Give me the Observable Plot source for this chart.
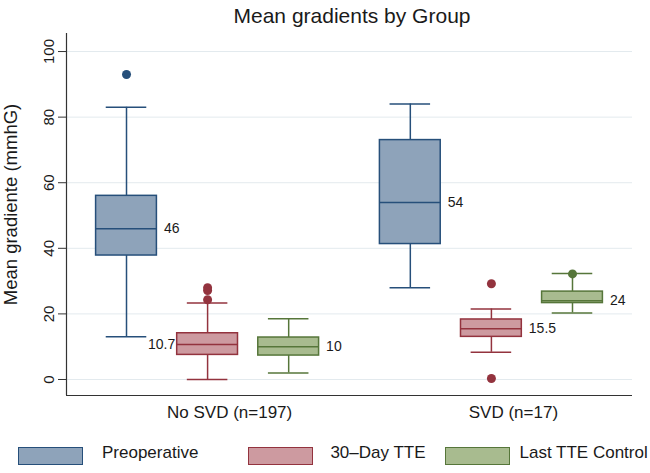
<!DOCTYPE html>
<html>
<head>
<meta charset="utf-8">
<script src="https://cdn.jsdelivr.net/npm/d3@7"></script>
<script src="https://cdn.jsdelivr.net/npm/@observablehq/plot@0.6"></script>
<style>
  body { margin: 0; background: #fff; font-family: "Liberation Sans", Arial, Helvetica, sans-serif; color: #1a1a1a; }
  #wrap { width: 650px; height: 473px; position: relative; overflow: hidden; }
  #title { height: 31px; line-height: 31px; font-size: 21px; text-align: center; padding-left: 70px; padding-right: 16px; }
  #legend { height: 35px; padding-top: 6px; display: flex; align-items: center; font-size: 17px; white-space: nowrap; }
  .sw { width: 63px; height: 16px; border-width: 1.5px; border-style: solid; flex: none; }
</style>
</head>
<body>
<div id="wrap">
  <div id="title"></div>
  <div id="chart"></div>
  <div id="legend"></div>
</div>
<script>
// ---- data ----
const chartTitle = "Mean gradients by Group";
const yTitle = "Mean gradiente (mmhG)";
const groups = ["No SVD (n=197)", "SVD (n=17)"];
const series = ["Preoperative", "30\u2013Day TTE", "Last TTE Control"];
const yTicks = [0, 20, 40, 60, 80, 100];
// box statistics, ordered group-major: [NoSVD-Pre, NoSVD-30d, NoSVD-Last, SVD-Pre, SVD-30d, SVD-Last]
const lowerWhisker = [13, 0, 2, 28, 8.3, 20.3];
const q1 = [37.8, 7.5, 7.3, 41.3, 13, 23.3];
const median = [46, 10.7, 10, 54, 15.5, 24];
const q3 = [56, 14.1, 12.8, 73, 18.3, 26.8];
const upperWhisker = [83, 23.3, 18.5, 84, 21.5, 32.3];
const medianLabelSide = ["right", "left", "right", "right", "right", "right"];
// outliers: [group index, series index, value]
const outliers = [
  [0, 0, 93],
  [0, 1, 24.3], [0, 1, 27.1], [0, 1, 28],
  [1, 1, 29.2], [1, 1, 0.3],
  [1, 2, 32.2]
];

// ---- styles ----
const fills = ["#8ea3ba", "#cd9aa0", "#a8bb8f"];
const strokes = ["#264f7a", "#93333e", "#56763a"];
const font = '"Liberation Sans", Arial, Helvetica, sans-serif';

// ---- layout helpers (slot positions on a linear x scale) ----
const slot = (g, s) => 1 + g * 3.5 + s;
const half = 0.375, capHalf = 0.25;
const xDomain = [1 - 0.74, 6.5 + 0.74];
const yDomain = [-4.88, 105.5];

const boxes = [];
groups.forEach((g, gi) => series.forEach((s, si) => {
  const i = gi * series.length + si;
  boxes.push({
    pos: slot(gi, si), si,
    lo: lowerWhisker[i], q1: q1[i], med: median[i], q3: q3[i], hi: upperWhisker[i],
    side: medianLabelSide[i]
  });
}));
const outs = outliers.map(([g, s, v]) => ({pos: slot(g, s), si: s, v}));
const groupLabels = groups.map((name, gi) => ({name, pos: slot(gi, 1)}));

document.getElementById("title").textContent = chartTitle;

const chart = Plot.plot({
  width: 650,
  height: 401,
  marginTop: 2,
  marginBottom: 37,
  marginLeft: 66,
  marginRight: 18,
  style: {fontFamily: font, fontSize: "15px", color: "#1a1a1a", background: "#fff"},
  x: {domain: xDomain, axis: null},
  y: {domain: yDomain, axis: null},
  color: {type: "identity"},
  marks: [
    Plot.ruleY(yTicks, {stroke: "#e3eaee", strokeWidth: 1}),
    // whiskers
    Plot.ruleX(boxes, {x: "pos", y1: "q3", y2: "hi", stroke: d => strokes[d.si], strokeWidth: 1.5}),
    Plot.ruleX(boxes, {x: "pos", y1: "lo", y2: "q1", stroke: d => strokes[d.si], strokeWidth: 1.5}),
    Plot.ruleY(boxes, {y: "hi", x1: d => d.pos - capHalf, x2: d => d.pos + capHalf, stroke: d => strokes[d.si], strokeWidth: 1.5}),
    Plot.ruleY(boxes, {y: "lo", x1: d => d.pos - capHalf, x2: d => d.pos + capHalf, stroke: d => strokes[d.si], strokeWidth: 1.5}),
    // boxes
    Plot.rect(boxes, {x1: d => d.pos - half, x2: d => d.pos + half, y1: "q1", y2: "q3",
      fill: d => fills[d.si], stroke: d => strokes[d.si], strokeWidth: 1.5}),
    Plot.ruleY(boxes, {y: "med", x1: d => d.pos - half, x2: d => d.pos + half, stroke: d => strokes[d.si], strokeWidth: 1.5}),
    // outliers
    Plot.dot(outs, {x: "pos", y: "v", r: 4.5, fill: d => strokes[d.si], stroke: "none"}),
    // median labels
    Plot.text(boxes.filter(d => d.side === "right"), {x: d => d.pos + half, y: "med", text: d => String(d.med),
      textAnchor: "start", dx: 7, fontSize: 14, fill: "#1a1a1a"}),
    Plot.text(boxes.filter(d => d.side === "left"), {x: d => d.pos - half, y: "med", text: d => String(d.med),
      textAnchor: "end", dx: -2, fontSize: 14, fill: "#1a1a1a"}),
    // axes
    Plot.axisY({ticks: yTicks, tickSize: 8, tickPadding: 5, tickRotate: -90, fontSize: 15, label: null, stroke: "#333", fill: "#1a1a1a"}),
    Plot.ruleX([xDomain[0]], {stroke: "#333", strokeWidth: 1.2}),
    Plot.ruleY([yDomain[0]], {stroke: "#333", strokeWidth: 1.2}),
    Plot.text(groupLabels, {x: "pos", text: "name", frameAnchor: "bottom", dy: 17, dx: 22, lineAnchor: "middle", fontSize: 17, fill: "#1a1a1a"}),
    Plot.text([yTitle], {frameAnchor: "left", textAnchor: "middle", lineAnchor: "middle", rotate: -90, dx: -55, dy: -10, fontSize: 18.5, fill: "#1a1a1a"})
  ]
});
document.getElementById("chart").appendChild(chart);

// legend
const legend = document.getElementById("legend");
const itemMargins = [18, 50, 19];
const textGaps = [19, 17, 10];
series.forEach((s, i) => {
  const sw = document.createElement("div");
  sw.className = "sw";
  sw.style.background = fills[i];
  sw.style.borderColor = strokes[i];
  sw.style.marginLeft = itemMargins[i] + "px";
  const t = document.createElement("span");
  t.textContent = s;
  t.style.marginLeft = textGaps[i] + "px";
  t.style.marginTop = "-6px";
  legend.appendChild(sw);
  legend.appendChild(t);
});
</script>
</body>
</html>
